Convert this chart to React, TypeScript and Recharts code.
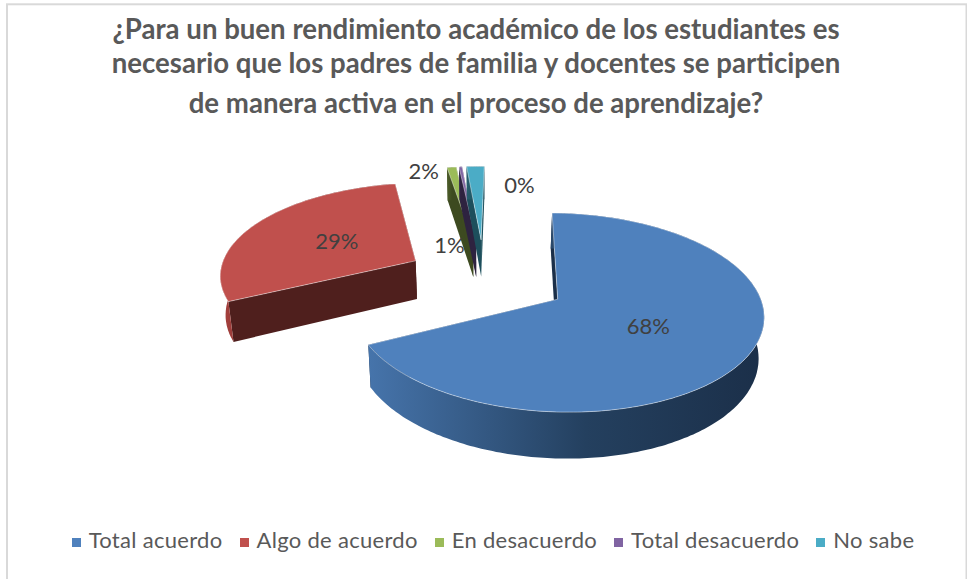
import { PieChart, Pie, Cell, Legend } from "recharts";

const sliceNames = ["Total acuerdo", "Algo de acuerdo", "En desacuerdo", "Total desacuerdo", "No sabe"];
const sliceValues = [67.5, 29.6, 0.9, 0.3, 1.7];
const sliceLabels = ["68%", "29%", "2%", "1%", "0%"];
const titleLines = [
  "¿Para un buen rendimiento académico de los estudiantes es",
  "necesario que los padres de familia y docentes se participen",
  "de manera activa en el proceso de aprendizaje?",
];

const TOP_COLORS = ["#4f81bd", "#c0504d", "#9bbb59", "#8064a2", "#4bacc6"];
const WALL_COLORS = ["#1b2f49", "#4f1f1d", "#3d4a20", "#2e2340", "#1d4f5c"];
const RIM_LIGHT = ["#4674ab", "#a8413e", "#4e5f2a", "#3c2e54", "#25606f"];
const POP_OUT = [0.43, 0.4, 0.43, 0.43, 0.43];
const LABEL_SHIFT = [
  [-20, -7],
  [18, 3],
  [-36, -24],
  [-17, 50],
  [42, -9],
];

const WIDTH = 967;
const HEIGHT = 579;
const CX = 484;
const CY = 277.3;
const RX = 197;
const TILT = 92 / 197;
const PERSPECTIVE = 0.13;
const DEPTH = 39;
const CONVERGE = 0.02; // lower edges lean in towards the middle
const FONT = "Lato, sans-serif";

const rad = (deg: number) => (deg * Math.PI) / 180;

// theta is clockwise from twelve o'clock, r is in pie radii
function project(theta: number, r: number, pop: number, popTheta: number, cx: number, cy: number, rx: number) {
  const px = pop * Math.sin(rad(popTheta)) + r * Math.sin(rad(theta));
  const py = -pop * Math.cos(rad(popTheta)) - r * Math.cos(rad(theta));
  const w = 1 / (1 - PERSPECTIVE * py);
  return { x: cx + rx * px * w, y: cy + rx * TILT * py * w, w };
}

function Slice3D(props: any) {
  const { cx, cy, outerRadius, startAngle, endAngle, name } = props;
  const i = sliceNames.indexOf(name);
  const t0 = 90 - startAngle;
  const t1 = 90 - endAngle;
  const mid = (t0 + t1) / 2;
  const at = (t: number, r: number) => project(t, r, POP_OUT[i], mid, cx, cy, outerRadius);
  const down = (p: { x: number; y: number; w: number }) => ({
    x: p.x + (cx - p.x) * CONVERGE,
    y: p.y + DEPTH * p.w,
    w: p.w,
  });
  const pts = (list: { x: number; y: number }[]) =>
    list.map((p) => `${p.x.toFixed(1)},${p.y.toFixed(1)}`).join(" ");

  const rim: { x: number; y: number; w: number }[] = [];
  const steps = Math.max(2, Math.ceil(t1 - t0));
  for (let s = 0; s <= steps; s++) rim.push(at(t0 + ((t1 - t0) * s) / steps, 1));
  const apex = at(0, 0);
  const first = rim[0];
  const last = rim[rim.length - 1];
  const gradId = `rim-${i}`;

  return (
    <g>
      <defs>
        <linearGradient id={gradId} gradientUnits="userSpaceOnUse" x1={Math.min(...rim.map((p) => p.x))} y1={0} x2={Math.max(...rim.map((p) => p.x))} y2={0}>
          <stop offset="0" stopColor={RIM_LIGHT[i]} />
          <stop offset="0.55" stopColor={i === 0 ? "#24405f" : WALL_COLORS[i]} />
          <stop offset="1" stopColor={WALL_COLORS[i]} />
        </linearGradient>
      </defs>
      <polygon points={pts([apex, first, down(first), down(apex)])} fill={WALL_COLORS[i]} />
      <polygon points={pts([apex, last, down(last), down(apex)])} fill={WALL_COLORS[i]} />
      <polygon points={pts([...rim, ...rim.map(down).reverse()])} fill={`url(#${gradId})`} />
      <polygon points={pts([apex, ...rim])} fill={TOP_COLORS[i]} stroke="#ffffff" strokeOpacity={0.55} strokeWidth={0.8} />
    </g>
  );
}

function SliceLabel(props: any) {
  const { index, midAngle, cx, cy, outerRadius } = props;
  const p = project(90 - midAngle, 0.6, POP_OUT[index], 90 - midAngle, cx, cy, outerRadius);
  return (
    <text
      x={p.x + LABEL_SHIFT[index][0]}
      y={p.y + LABEL_SHIFT[index][1]}
      textAnchor="middle"
      dominantBaseline="central"
      fontSize={22}
      fontFamily={FONT}
      fill="#404040"
    >
      {sliceLabels[index]}
    </text>
  );
}

const chartData = sliceNames.map((name, k) => ({ name, value: sliceValues[k] }));

export default function App() {
  return (
    <div style={{ position: "absolute", left: 0, top: 0, width: WIDTH, height: HEIGHT, background: "#fff", overflow: "hidden" }}>
      <PieChart width={WIDTH} height={HEIGHT} margin={{ top: 0, right: 0, bottom: 0, left: 0 }}>
        <rect x={7} y={4.3} width={959.5} height={590} fill="none" stroke="#d9d9d9" strokeWidth={2} />
        {titleLines.map((line, k) => (
          <text
            key={line}
            x={476}
            y={[39, 73, 113][k]}
            textAnchor="middle"
            fontSize={27.6}
            fontWeight={700}
            fontFamily={FONT}
            fill="#595959"
          >
            {line}
          </text>
        ))}
        <Pie
          data={chartData}
          dataKey="value"
          nameKey="name"
          cx={CX}
          cy={CY}
          outerRadius={RX}
          startAngle={89}
          endAngle={-271}
          stroke="none"
          isAnimationActive={false}
          shape={Slice3D}
          label={SliceLabel}
          labelLine={false}
        >
          {chartData.map((d, k) => (
            <Cell key={d.name} fill={TOP_COLORS[k]} />
          ))}
        </Pie>
        <Legend
          verticalAlign="bottom"
          align="center"
          iconType="square"
          iconSize={9}
          itemSorter={null}
          wrapperStyle={{ top: 526, left: 18, width: WIDTH, fontFamily: FONT, fontSize: 22, letterSpacing: 0.3 }}
          formatter={(value: string) => (
            <span style={{ color: "#595959", marginLeft: 4, marginRight: 7 }}>{value}</span>
          )}
        />
      </PieChart>
    </div>
  );
}
